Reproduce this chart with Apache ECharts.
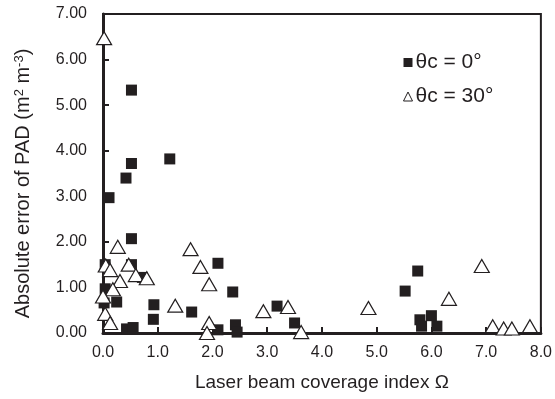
<!DOCTYPE html>
<html>
<head>
<meta charset="utf-8">
<script src="https://cdn.jsdelivr.net/npm/echarts@6/dist/echarts.min.js"></script>
<style>html,body{margin:0;padding:0;background:#fff;}#c{width:555px;height:399px;}</style>
</head>
<body>
<div id="c"></div>
<script>
var seriesNames = ['θc = 0°', 'θc = 30°'];
var xTicks = [0, 1, 2, 3, 4, 5, 6, 7, 8];
var yTicks = [0, 1, 2, 3, 4, 5, 6, 7];

var theta0 = [
  [0.04, 1.50], [0.04, 0.97], [0.02, 0.66], [0.11, 2.97], [0.25, 0.68],
  [0.42, 3.40], [0.43, 0.09], [0.52, 5.33], [0.52, 3.72], [0.52, 2.07],
  [0.52, 1.50], [0.55, 0.12], [0.72, 1.22], [0.92, 0.30], [0.93, 0.62],
  [1.22, 3.82], [1.62, 0.46], [2.10, 1.53], [2.10, 0.07], [2.37, 0.90],
  [2.42, 0.18], [2.45, 0.02], [3.18, 0.59], [3.50, 0.22], [5.52, 0.92],
  [5.75, 1.36], [5.79, 0.29], [5.82, 0.15], [6.00, 0.38], [6.10, 0.15]
];
var theta30 = [
  [0.02, 6.47], [0.05, 1.48], [0.13, 1.38], [0.27, 1.89], [0.47, 1.50],
  [0.60, 1.27], [0.80, 1.20], [0.31, 1.14], [0.18, 0.96], [0.00, 0.80],
  [0.04, 0.42], [0.13, 0.22], [1.32, 0.60], [1.60, 1.84], [1.78, 1.45],
  [1.94, 1.07], [1.94, 0.22], [1.90, 0.00], [2.93, 0.48], [3.38, 0.57],
  [3.62, 0.02], [4.85, 0.55], [6.32, 0.75], [6.92, 1.47], [7.12, 0.15],
  [7.32, 0.10], [7.47, 0.10], [7.80, 0.15]
];

var ink = '#231f20';
var chart = echarts.init(document.getElementById('c'), null, {renderer: 'canvas'});
chart.setOption({
  animation: false,
  backgroundColor: '#fff',
  textStyle: {fontFamily: 'Liberation Sans, Arial, sans-serif', color: ink},
  grid: {left: 103, right: 10, top: 14, bottom: 66, show: true, borderColor: ink, borderWidth: 2},
  legend: {
    orient: 'vertical', left: 398, top: 47, itemGap: 13,
    itemWidth: 9, itemHeight: 9,
    data: [
      {name: seriesNames[0], icon: 'rect', itemStyle: {color: ink}},
      {name: seriesNames[1], icon: 'triangle', itemStyle: {color: '#fff', borderColor: ink, borderWidth: 1}}
    ],
    textStyle: {fontSize: 21, color: ink, fontFamily: 'Liberation Sans, Arial, sans-serif', padding: [0, 0, 0, -2]}
  },
  xAxis: {
    type: 'value', min: xTicks[0], max: xTicks[xTicks.length - 1], interval: 1,
    name: 'Laser beam coverage index Ω', nameLocation: 'middle', nameGap: 40,
    nameTextStyle: {fontSize: 19, color: ink},
    axisLine: {lineStyle: {color: ink, width: 3}},
    axisTick: {inside: true, length: 6, lineStyle: {color: ink, width: 2}},
    axisLabel: {fontSize: 16, color: ink, margin: 12, formatter: function (v) { return v.toFixed(1); }},
    splitLine: {show: false}
  },
  yAxis: {
    type: 'value', min: yTicks[0], max: yTicks[yTicks.length - 1], interval: 1,
    name: 'Absolute error of PAD (m{sup|2} m{sup|-3})', nameLocation: 'middle', nameGap: 70,
    nameTextStyle: {fontSize: 20, color: ink, padding: [0, 20, 0, 0], rich: {sup: {fontSize: 13, verticalAlign: 'top', color: ink, padding: [0, 0, 6, 0]}}},
    axisLine: {lineStyle: {color: ink, width: 3}},
    axisTick: {inside: true, length: 6, lineStyle: {color: ink, width: 2}},
    axisLabel: {fontSize: 16, color: ink, margin: 16, formatter: function (v) { return v.toFixed(2); }},
    splitLine: {show: false}
  },
  series: [
    {
      name: seriesNames[0], type: 'scatter', data: theta0, symbol: 'rect', symbolSize: 11,
      itemStyle: {color: ink, opacity: 1}, z: 3
    },
    {
      name: seriesNames[1], type: 'scatter', data: theta30, symbol: 'triangle', symbolSize: [15, 13],
      itemStyle: {color: '#fff', borderColor: ink, borderWidth: 1.2, opacity: 1}, z: 4
    }
  ]
});
</script>
</body>
</html>
